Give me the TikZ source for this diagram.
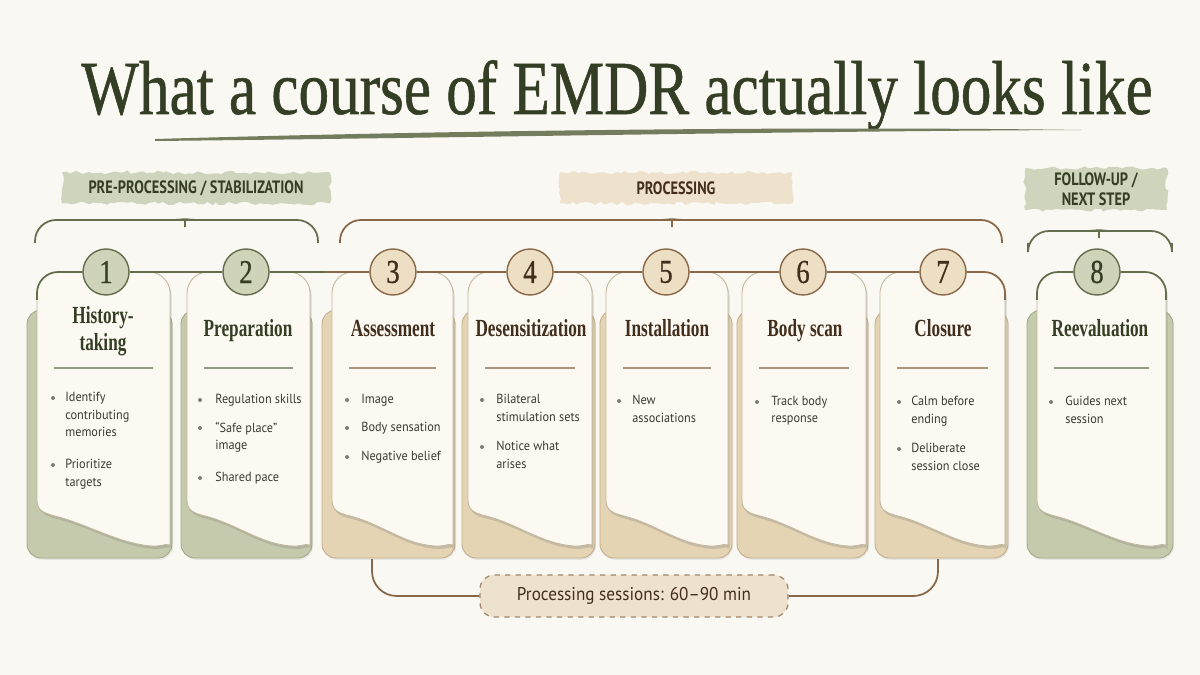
\documentclass[tikz,border=0pt]{standalone}
\usepackage{fontspec}
\setmainfont{Liberation Serif}
\newfontfamily\titlefont[FakeStretch=0.8,FakeBold=0.7]{Liberation Serif}
\newfontfamily\cardfont[FakeStretch=0.7]{Liberation Serif}
\newfontfamily\bodyfont[FakeStretch=0.93]{PT Sans}
\newfontfamily\bandfont[FakeStretch=0.8]{PT Sans}
\usetikzlibrary{shadows,decorations.pathmorphing}

\definecolor{paper}{RGB}{249,248,243}
\definecolor{cream}{RGB}{251,249,242}
\definecolor{creamedge}{RGB}{196,184,156}
\definecolor{inktext}{RGB}{58,58,52}
\definecolor{dotgray}{RGB}{125,125,112}
% green family
\definecolor{sage}{RGB}{196,202,171}
\definecolor{sagedot}{RGB}{206,211,186}
\definecolor{sageband}{RGB}{207,212,188}
\definecolor{sageline}{RGB}{100,110,76}
\definecolor{sagedark}{RGB}{52,62,36}
% tan family
\definecolor{sand}{RGB}{228,212,179}
\definecolor{sanddot}{RGB}{237,223,196}
\definecolor{sandband}{RGB}{238,226,204}
\definecolor{sandline}{RGB}{136,104,72}
\definecolor{sanddark}{RGB}{66,46,28}

\begin{document}
\begin{tikzpicture}[x=0.02cm,y=-0.02cm,
  back card/.style={fill=#1, draw=#1line!35!#1, line width=0.5pt, rounded corners=8,
    drop shadow={opacity=0.15,shadow xshift=0.6pt,shadow yshift=-1pt}},
  front card/.style={fill=cream, draw=creamedge, line width=0.5pt,
    drop shadow={opacity=0.3,shadow xshift=0.9pt,shadow yshift=-1.6pt}},
  phase dot/.style={circle, minimum size=0.92cm, inner sep=0pt, fill=#1dot, draw=#1line,
    line width=0.8pt, text=#1dark, font=\titlefont\fontsize{19}{19}\selectfont},
  phase link/.style={draw=#1line, line width=1pt},
  rule/.style={draw=#1line!70, line width=0.8pt},
  card title/.style={text=#1dark, align=center, font=\cardfont\bfseries\fontsize{14}{15.3}\selectfont},
  bullet item/.style={anchor=north west, align=left, inner sep=0pt, text=inktext,
    font=\bodyfont\fontsize{7.5}{9.9}\selectfont},
  band/.style={fill=#1band, text=#1dark, align=center, inner sep=0pt,
    font=\bandfont\bfseries\fontsize{10.2}{11.5}\selectfont,
    decorate, decoration={random steps,segment length=2.5pt,amplitude=1pt}},
  session box/.style={fill=sandband, draw=sandline!80, dashed, line width=0.7pt,
    rounded corners=8, minimum width=6.16cm, minimum height=0.84cm, text=sanddark,
    font=\bodyfont\fontsize{10.5}{12}\selectfont}]
\pgfmathsetseed{7}
\useasboundingbox (0,0) rectangle (1200,675);
\fill[paper] (0,0) rectangle (1200,675);

% title and brush underline
\node[anchor=base, text=sagedark, font=\titlefont\fontsize{43.5}{44}\selectfont] (title) at (617,114) {What a course of EMDR actually looks like};
\fill[sageline!90] (155,139) .. controls (450,130.5) and (800,126) .. (1082,130)
  .. controls (800,131) and (450,138) .. (155,141) -- cycle;

% group bands and braces
\node[band=sage, minimum width=5.36cm, minimum height=0.62cm] (pre) at (196,188) {PRE-PROCESSING / STABILIZATION};
\node[band=sand, minimum width=4.66cm, minimum height=0.62cm] (proc) at (676,188) {PROCESSING};
\node[band=sage, minimum width=2.84cm, minimum height=0.84cm] (follow) at (1096,189) {FOLLOW-UP /\\NEXT STEP};
\foreach \l/\r/\p/\t/\tone in {35/318/185/220/sage, 340/1002/672/220/sand, 1028/1172/1099/231/sage}
  \draw[phase link=\tone, rounded corners=12] (\l,243) |- (\p-8,\t)
    .. controls (\p-2,\t) and (\p,\t-4) .. (\p,\t-14)
    .. controls (\p,\t-4) and (\p+2,\t) .. (\p+8,\t) -| (\r,243);

% cards
\foreach \n/\bl/\br/\fl/\fr/\cx/\tone in {1/27/172/37/170/106/sage, 2/181/312/187/310/246/sage,
    3/322/455/332/453/393/sand, 4/462/595/468/592/530/sand, 5/600/732/606/728/666/sand,
    6/737/868/742/866/803/sand, 7/875/1008/880/1005/943/sand, 8/1027/1173/1037/1166/1097/sage}{
  \path[back card=\tone] (\bl,310) rectangle (\br,558);
  \path[front card] (\fl,500) [rounded corners=12] -- (\fl,272) -- (\fr,272) -- (\fr,528)
    [sharp corners] .. controls (\fr,540) and (\fr-5,547) .. (\fr-18,546)
    .. controls (\fr-50,544) and (\fl+50,524) .. (\fl+18,516)
    .. controls (\fl+6,513) and (\fl,510) .. (\fl,500) -- cycle;
  \draw[rule=\tone] (\fl+17,368) -- (\fr-17,368);
  \node[phase dot=\tone] (n\n) at (\cx,272) {\n};
}

% phase line
\coordinate (k1) at (37,300);
\coordinate (mix) at (325,272);
\coordinate (k7) at (1005,300);
\coordinate (k8a) at (1037,300);
\coordinate (k8b) at (1166,300);
\draw[phase link=sage, rounded corners=12] (k1) |- (n1);
\draw[phase link=sage] (n1) -- (n2);
\draw[phase link=sage] (n2) -- (mix);
\draw[phase link=sand] (mix) -- (n3);
\foreach \a/\b in {3/4,4/5,5/6,6/7} \draw[phase link=sand] (n\a) -- (n\b);
\draw[phase link=sand, rounded corners=12] (n7) -| (k7);
\draw[phase link=sage, rounded corners=12] (k8a) |- (n8);
\draw[phase link=sage, rounded corners=12] (n8) -| (k8b);

% card headings
\node[card title=sage] (h1) at (103,331) {History-\\taking};
\foreach \n/\cx/\txt/\tone in {2/248/Preparation/sage, 3/393/Assessment/sand, 4/531/Desensitization/sand,
    5/667/Installation/sand, 6/805/Body scan/sand, 7/943/Closure/sand, 8/1100/Reevaluation/sage}
  \node[card title=\tone, anchor=base] (h\n) at (\cx,337) {\txt};

% bullets: dot x / text x / first line centre / text
\foreach \dx/\tx/\y/\txt in {53/65/398/{Identify\\contributing\\memories}, 53/65/465/{Prioritize\\targets},
    200/215/400/{Regulation skills}, 200/215/428/{“Safe place”\\image}, 200/215/478/{Shared pace},
    347/361/400/{Image}, 347/361/428/{Body sensation}, 347/361/457/{Negative belief},
    482/496/400/{Bilateral\\stimulation sets}, 482/496/447/{Notice what\\arises},
    619/632/401/{New\\associations}, 757/771/402/{Track body\\response},
    899/911/402/{Calm before\\ending}, 899/911/449/{Deliberate\\session close},
    1051/1065/402/{Guides next\\session}}{
  \fill[dotgray] (\dx,\y) circle[radius=2];
  \node[bullet item] at (\tx,\y-6) {\txt};
}

% processing sessions bracket
\node[session box] (sess) at (634,596) {Processing sessions: 60–90 min};
\coordinate (s3) at (372,559);
\coordinate (s7) at (938,559);
\draw[phase link=sand, rounded corners=14] (s3) |- (sess);
\draw[phase link=sand, rounded corners=14] (sess) -| (s7);
\end{tikzpicture}
\end{document}
